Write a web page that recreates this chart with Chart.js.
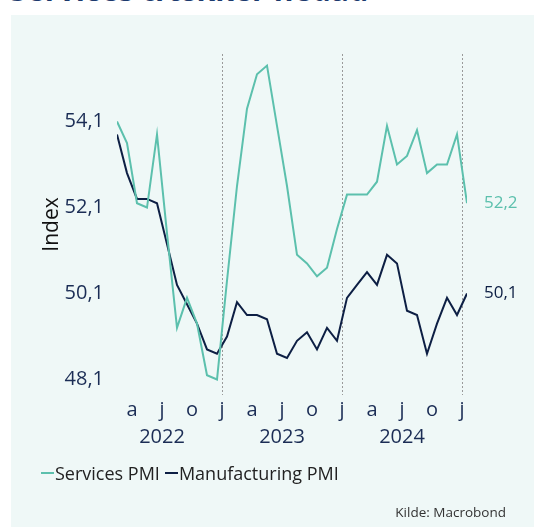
<!DOCTYPE html>
<html>
<head>
<meta charset="utf-8">
<script src="https://cdn.jsdelivr.net/npm/chart.js@4.4.1/dist/chart.umd.min.js"></script>
<style>
  body { margin: 0; width: 534px; height: 527px; background: #fff; position: relative; overflow: hidden; font-family: "Open Sans", sans-serif; }
  #title { position: absolute; left: 10px; top: -25px; font-size: 30px; line-height: 30px; font-weight: bold; color: #1c3a6e; white-space: nowrap; letter-spacing: 0.2px; }
  #panel { position: absolute; left: 11px; top: 15px; width: 523px; height: 512px; background: #eff8f7; }
  #myChart { position: absolute; left: 0; top: 0; }
  #legend { position: absolute; left: 41px; top: 461px; font-size: 18px; color: #222; display: flex; align-items: center; white-space: nowrap; }
  #legend .sw { display: inline-block; width: 13px; height: 2px; margin-right: 1px; }
  #legend .item { display: flex; align-items: center; margin-right: 5px; }
  #source { position: absolute; right: 28px; top: 503px; font-size: 13.5px; color: #333; }
</style>
</head>
<body>
<div id="title">Services trækker nedad</div>
<div id="panel"></div>
<canvas id="myChart" width="534" height="527"></canvas>
<div id="legend">
  <span class="item"><span class="sw" style="background:#5cc0ad"></span>Services PMI</span>
  <span class="item"><span class="sw" style="background:#0d1f44"></span>Manufacturing PMI</span>
</div>
<div id="source">Kilde: Macrobond</div>
<script>
// monthly, Feb 2022 - Jan 2025
var months = [
    '2022-02', '2022-03', '2022-04', '2022-05', '2022-06', '2022-07', '2022-08', '2022-09', '2022-10', '2022-11', '2022-12',
    '2023-01', '2023-02', '2023-03', '2023-04', '2023-05', '2023-06', '2023-07', '2023-08', '2023-09', '2023-10', '2023-11', '2023-12',
    '2024-01', '2024-02', '2024-03', '2024-04', '2024-05', '2024-06', '2024-07', '2024-08', '2024-09', '2024-10', '2024-11', '2024-12',
    '2025-01'
];
var services = [
    54.1, 53.6, 52.2, 52.1, 53.8, 51.5, 49.3, 50.0, 49.4, 48.2, 48.1,
    50.4, 52.6, 54.4, 55.2, 55.4, 54.0, 52.6, 51.0, 50.8, 50.5, 50.7, 51.6,
    52.4, 52.4, 52.4, 52.7, 54.0, 53.1, 53.3, 53.9, 52.9, 53.1, 53.1, 53.8,
    52.2
];
var manufacturing = [
    53.8, 52.9, 52.3, 52.3, 52.2, 51.25, 50.3, 49.85, 49.4, 48.8, 48.7,
    49.1, 49.9, 49.6, 49.6, 49.5, 48.7, 48.6, 49.0, 49.2, 48.8, 49.3, 49.0,
    50.0, 50.3, 50.6, 50.3, 51.0, 50.8, 49.7, 49.6, 48.7, 49.4, 50.0, 49.6,
    50.1
];
var yTicks = [48.1, 50.1, 52.1, 54.1];
var monthLetters = ['j', 'f', 'm', 'a', 'm', 'j', 'j', 'a', 's', 'o', 'n', 'd'];

var teal = '#5cc0ad';
var navy = '#0d1f44';
var tickColor = '#1b2d55';

// x position in months since Jan 2022, plotted mid-month
function toPoints(values) {
    return values.map(function (v, i) {
        var parts = months[i].split('-');
        var m = (parseInt(parts[0]) - 2022) * 12 + parseInt(parts[1]) - 1;
        return { x: m + 0.5, y: v };
    });
}
function fmt(v) {
    return v.toFixed(1).replace('.', ',');
}

var endLabels = {
    id: 'endLabels',
    afterDatasetsDraw: function (chart) {
        var ctx = chart.ctx;
        chart.data.datasets.forEach(function (ds, i) {
            var meta = chart.getDatasetMeta(i);
            var pt = meta.data[meta.data.length - 1];
            ctx.save();
            ctx.font = '17px "Open Sans"';
            ctx.fillStyle = ds.borderColor;
            ctx.textAlign = 'left';
            ctx.textBaseline = 'middle';
            ctx.fillText(fmt(ds.data[ds.data.length - 1].y), pt.x + 17, pt.y);
            ctx.restore();
        });
    }
};

var ctx = document.getElementById('myChart').getContext('2d');
var myChart = new Chart(ctx, {
    type: 'line',
    data: {
        datasets: [{
            label: 'Services PMI',
            data: toPoints(services),
            borderColor: teal,
            borderWidth: 2,
            pointRadius: 0,
            tension: 0
        }, {
            label: 'Manufacturing PMI',
            data: toPoints(manufacturing),
            borderColor: navy,
            borderWidth: 2,
            pointRadius: 0,
            tension: 0
        }]
    },
    options: {
        responsive: false,
        animation: false,
        layout: {
            padding: { top: 54, right: 67, bottom: 72, left: 0 }
        },
        plugins: {
            legend: { display: false },
            tooltip: { enabled: false }
        },
        scales: {
            x: {
                type: 'linear',
                min: 1.5,
                max: 36.5,
                afterBuildTicks: function (scale) {
                    var t = [];
                    for (var v = 3; v <= 36; v += 3) t.push({ value: v });
                    scale.ticks = t;
                },
                afterFit: function (scale) { scale.height = 60; },
                grid: {
                    drawTicks: false,
                    color: function (c) {
                        return c.tick && c.tick.value % 12 === 0 ? '#9a9a9a' : 'rgba(0,0,0,0)';
                    },
                    lineWidth: 1
                },
                border: { display: false, dash: [2, 2] },
                ticks: {
                    autoSkip: false,
                    maxRotation: 0,
                    padding: 1,
                    color: tickColor,
                    font: { family: 'Open Sans', size: 20, lineHeight: 1.38 },
                    callback: function (value) {
                        var letter = monthLetters[value % 12];
                        if (value % 12 === 6) {
                            return [letter, String(2022 + Math.floor(value / 12))];
                        }
                        return letter;
                    }
                }
            },
            y: {
                min: 47.74,
                max: 55.67,
                afterBuildTicks: function (scale) {
                    scale.ticks = yTicks.map(function (v) { return { value: v }; });
                },
                afterFit: function (scale) { scale.width = 117; },
                grid: { display: false, drawTicks: false },
                border: { display: false },
                ticks: {
                    padding: 13,
                    color: tickColor,
                    font: { family: 'Open Sans', size: 20 },
                    callback: function (value) { return fmt(value); }
                },
                title: {
                    display: true,
                    text: 'Index',
                    color: '#111',
                    padding: { top: 39, bottom: 0 },
                    font: { family: 'Open Sans', size: 21 }
                }
            }
        }
    },
    plugins: [endLabels]
});
</script>
</body>
</html>
